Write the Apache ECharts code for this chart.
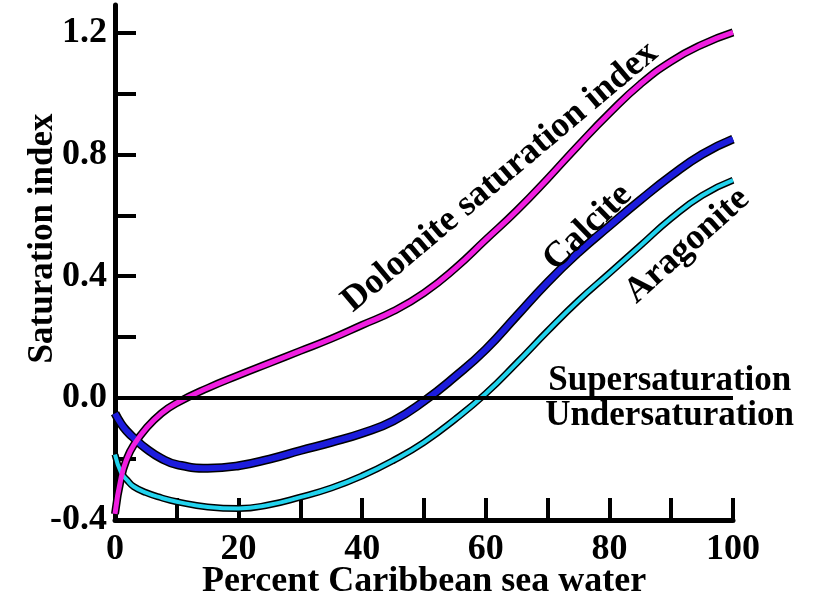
<!DOCTYPE html>
<html><head><meta charset="utf-8">
<script src="https://cdn.jsdelivr.net/npm/echarts@6/dist/echarts.min.js"></script>
<style>html,body{margin:0;padding:0;background:#fff}#c{width:816px;height:603px}</style>
</head><body><div id="c"></div>
<script>
// ---- data ----
const xValues   = [0, 1, 2, 3, 5, 7.5, 10, 15, 20, 25, 30, 35, 40, 45, 50, 55, 60, 65, 70, 75, 80, 85, 90, 95, 100];
const dolomite  = [-0.38, -0.26, -0.195, -0.155, -0.10, -0.05, -0.016, 0.033, 0.075, 0.115, 0.155, 0.195, 0.24, 0.285, 0.345, 0.425, 0.52, 0.615, 0.72, 0.83, 0.935, 1.03, 1.105, 1.16, 1.20];
const calcite   = [-0.05, -0.085, -0.11, -0.13, -0.165, -0.198, -0.218, -0.23, -0.222, -0.20, -0.172, -0.145, -0.115, -0.075, -0.01, 0.07, 0.16, 0.27, 0.38, 0.478, 0.565, 0.65, 0.73, 0.80, 0.85];
const aragonite = [-0.185, -0.245, -0.27, -0.29, -0.31, -0.327, -0.34, -0.357, -0.362, -0.35, -0.325, -0.295, -0.255, -0.205, -0.145, -0.07, 0.015, 0.115, 0.22, 0.32, 0.41, 0.50, 0.59, 0.665, 0.715];
const xTickLabels = [0, 20, 40, 60, 80, 100];
const yTickLabels = [-0.4, 0, 0.4, 0.8, 1.2];
const yTicks = [-0.4, -0.2, 0, 0.2, 0.4, 0.6, 0.8, 1.0, 1.2];
const curveLabels = [
  {text: 'Dolomite saturation index', x: 62.3, y: 0.725, angle: 40},
  {text: 'Calcite', x: 76.5, y: 0.56, angle: 44},
  {text: 'Aragonite', x: 92.6, y: 0.50, angle: 42}
];
const zoneLabels = [
  {text: 'Supersaturation', x: 70.1, y: 0.056},
  {text: 'Undersaturation', x: 69.6, y: -0.059}
];

const FONT = "'Liberation Serif', 'Times New Roman', serif";
const pairs = arr => xValues.map((x, i) => [x, arr[i]]);

function curve(name, data, color, w) {
  return [
    {name: name + '-outline', type: 'line', data: pairs(data), smooth: 0.5, symbol: 'none', silent: true,
     lineStyle: {color: '#000', width: w + 3}, z: 2},
    {name: name, type: 'line', data: pairs(data), smooth: 0.5, symbol: 'none', silent: true,
     lineStyle: {color: color, width: w}, z: 3}
  ];
}

const chart = echarts.init(document.getElementById('c'), null, {renderer: 'canvas'});
const series = [].concat(
  curve('Aragonite', aragonite, '#22d3ee', 4),
  curve('Calcite', calcite, '#1c1cdc', 6),
  curve('Dolomite', dolomite, '#f01ee0', 5)
);
series[0].markLine = {
  silent: true, symbol: 'none', label: {show: false},
  lineStyle: {color: '#000', width: 4, type: 'solid'},
  data: [{yAxis: 0}]
};

chart.setOption({
  animation: false,
  backgroundColor: '#fff',
  grid: {left: 115, right: 83, top: 5, bottom: 83, containLabel: false, outerBoundsMode: 'none'},
  xAxis: {
    type: 'value', min: 0, max: 100, interval: 10,
    name: 'Percent Caribbean sea water', nameLocation: 'middle', nameGap: 44, nameMoveOverlap: false,
    nameTextStyle: {fontFamily: FONT, fontWeight: 'bold', fontSize: 36, color: '#000'},
    axisLine: {show: true, onZero: false, lineStyle: {color: '#000', width: 5}},
    axisTick: {show: true, inside: true, length: 22, lineStyle: {color: '#000', width: 4}},
    axisLabel: {
      fontFamily: FONT, fontWeight: 'bold', fontSize: 36, color: '#000', margin: 12,
      formatter: v => xTickLabels.indexOf(v) >= 0 ? String(v) : ''
    },
    splitLine: {show: false}
  },
  yAxis: {
    type: 'value', min: -0.4, max: 1.29,
    name: 'Saturation index', nameLocation: 'middle', nameGap: 55, nameRotate: 90, nameMoveOverlap: false,
    nameTextStyle: {fontFamily: FONT, fontWeight: 'bold', fontSize: 35, color: '#000', padding: [0, 0, 0, 48]},
    axisLine: {show: true, onZero: false, lineStyle: {color: '#000', width: 5}},
    axisTick: {show: true, inside: true, length: 21, customValues: yTicks, lineStyle: {color: '#000', width: 4}},
    axisLabel: {
      fontFamily: FONT, fontWeight: 'bold', fontSize: 36, color: '#000', margin: 8,
      customValues: yTickLabels,
      formatter: v => v.toFixed(1)
    },
    splitLine: {show: false}
  },
  series: series
});

const graphics = [];
curveLabels.forEach(l => {
  const p = chart.convertToPixel({gridIndex: 0}, [l.x, l.y]);
  graphics.push({type: 'text', x: p[0], y: p[1], rotation: l.angle * Math.PI / 180, z: 10,
    style: {text: l.text, fontFamily: FONT, fontWeight: 'bold', fontSize: 36, fill: '#000',
            textAlign: 'center', textVerticalAlign: 'middle'}});
});
zoneLabels.forEach(l => {
  const p = chart.convertToPixel({gridIndex: 0}, [l.x, l.y]);
  graphics.push({type: 'text', x: p[0], y: p[1], z: 10,
    style: {text: l.text, fontFamily: FONT, fontWeight: 'bold', fontSize: 35, fill: '#000',
            textAlign: 'left', textVerticalAlign: 'middle'}});
});
chart.setOption({graphic: graphics});
</script>
</body></html>
